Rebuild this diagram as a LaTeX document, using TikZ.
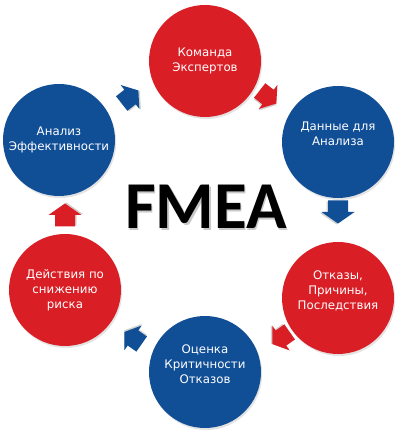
\documentclass[tikz,border=0pt]{standalone}
\usepackage{fontspec}
\setmainfont{DejaVu Sans}
\newfontfamily\fmeafont{Carlito}
\usetikzlibrary{shadows}
\definecolor{cred}{RGB}{218,30,38}
\definecolor{cblue}{RGB}{16,78,150}
\begin{document}
\begin{tikzpicture}[x=1pt,y=1pt,
  stage/.style={circle, minimum size=112pt, inner sep=0pt, text=white, align=center,
    font=\fontsize{11.8}{15}\selectfont,
    drop shadow={shadow xshift=1.2pt, shadow yshift=-2pt, opacity=0.22}},
  redstage/.style={stage, fill=cred},
  bluestage/.style={stage, fill=cblue},
  blockarrow/.pic={
    \fill[black, opacity=0.18] (-10.5,-11.5) -- (1,-11.5) -- (1,-18) -- (12.5,-1.5) -- (1,15) -- (1,8.5) -- (-10.5,8.5) -- cycle;
    \fill[pic actions] (-11.5,-10) -- (0,-10) -- (0,-16.5) -- (11.5,0) -- (0,16.5) -- (0,10) -- (-11.5,10) -- cycle;
  }
]
\useasboundingbox (0,0) rectangle (400,431);
\fill[white] (0,0) rectangle (400,431);

% stages
\node[redstage]  (team)   at (205,370) {Команда\\Экспертов};
\node[bluestage] (data)   at (338,289) {Данные для\\Анализа\\[-3pt]\strut};
\node[redstage]  (fail)   at (338,133) {Отказы,\\Причины,\\Последствия\\[-4pt]\strut};
\node[bluestage] (crit)   at (205,59)  {Оценка\\Критичности\\Отказов\\[-4pt]\strut};
\node[redstage]  (action) at (65,141)  {Действия по\\снижению\\риска};
\node[bluestage] (eff)    at (59,291)  {Анализ\\Эффективности};

% title
\node[inner sep=0pt, text=black!35, opacity=0.6, font=\fmeafont\bfseries\fontsize{67}{67}\selectfont] at (207.5,222.5) {FMEA};
\node[inner sep=0pt, text=black, font=\fmeafont\bfseries\fontsize{67}{67}\selectfont] (title) at (206,224) {FMEA};

% block arrows between stages
\pic[fill=cblue, rotate=38,  scale=0.92] (a1) at (130,334) {blockarrow};
\pic[fill=cred,  rotate=-38, scale=0.92] (a2) at (268,334) {blockarrow};
\pic[fill=cblue, rotate=-90]             (a3) at (338,219) {blockarrow};
\pic[fill=cred,  rotate=215, scale=0.92] (a4) at (281,93)  {blockarrow};
\pic[fill=cblue, rotate=145, scale=0.92] (a5) at (133,93)  {blockarrow};
\pic[fill=cred,  rotate=90]              (a6) at (65,216)  {blockarrow};
\end{tikzpicture}
\end{document}
